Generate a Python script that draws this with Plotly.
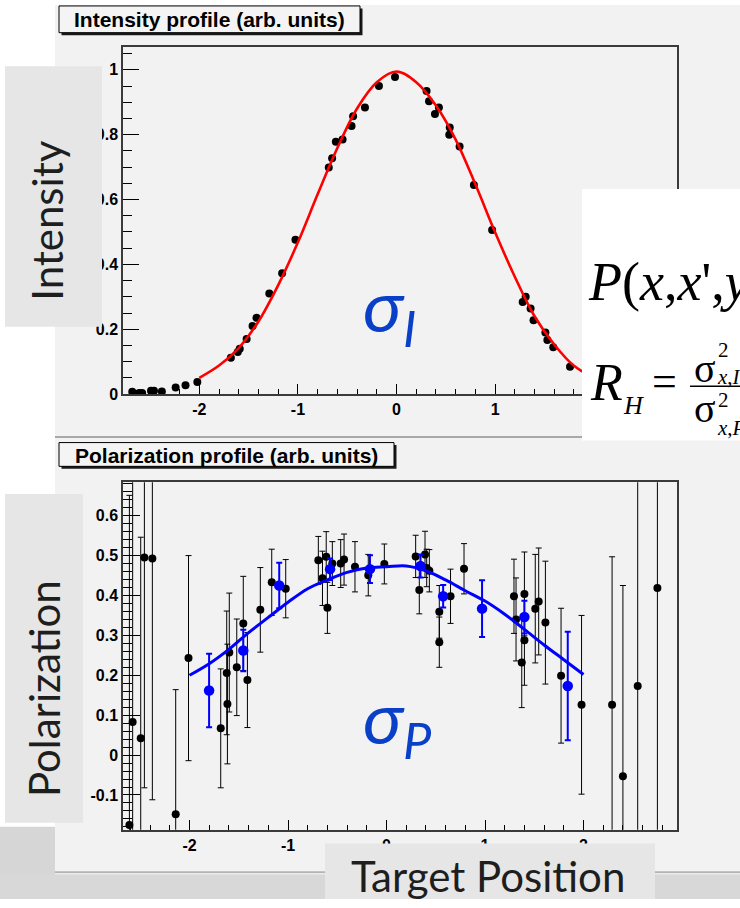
import plotly.graph_objects as go

W, H = 740, 908


def px(x):
    return x / W


def py(y):
    return 1 - y / H


# ---------------- data: intensity profile ----------------
int_x = [-2.68, -2.61, -2.58, -2.49, -2.46, -2.38, -2.24, -2.14, -2.02, -1.68, -1.61, -1.59,
         -1.52, -1.46, -1.42, -1.29, -1.16, -1.025, -0.687, -0.653, -0.615, -0.547, -0.456,
         -0.44, -0.32, -0.178, -0.015, 0.305, 0.33, 0.39, 0.43, 0.535, 0.54, 0.64, 0.785,
         0.97, 1.28, 1.31, 1.36, 1.39, 1.51, 1.53, 1.59, 1.76]
int_y = [0.007, 0.003, 0.003, 0.01, 0.01, 0.008, 0.02, 0.027, 0.037, 0.112, 0.13, 0.14,
         0.17, 0.21, 0.235, 0.31, 0.373, 0.476, 0.699, 0.727, 0.778, 0.785, 0.827,
         0.857, 0.884, 0.95, 0.978, 0.935, 0.903, 0.864, 0.884, 0.80, 0.822, 0.764, 0.645,
         0.506, 0.284, 0.30, 0.264, 0.228, 0.19, 0.167, 0.144, 0.084]

fit_i_x = [-2.0, -1.8, -1.6, -1.4, -1.2, -1.0, -0.8, -0.6, -0.4, -0.2, 0.0,
           0.2, 0.4, 0.6, 0.8, 1.0, 1.2, 1.4, 1.6, 1.8, 2.0]
fit_i_y = [0.05, 0.088, 0.142, 0.224, 0.336, 0.468, 0.616, 0.759, 0.881, 0.962, 0.995,
           0.962, 0.89, 0.785, 0.647, 0.499, 0.362, 0.24, 0.153, 0.087, 0.05]

# ---------------- data: polarization profile ----------------
pol_x = [-2.61, -2.577, -2.495, -2.458, -2.377, -2.14, -2.01, -1.683, -1.622, -1.615, -1.596,
         -1.52, -1.454, -1.412, -1.281, -1.165, -1.023, -0.692, -0.65, -0.612, -0.60, -0.55,
         -0.465, -0.431, -0.32, -0.185, -0.022, 0.296, 0.333, 0.391, 0.408, 0.435, 0.536,
         0.536, 0.65, 0.787, 1.294, 1.315, 1.373, 1.40, 1.40, 1.51, 1.545, 1.613, 1.772,
         1.98, 2.29, 2.40, 2.55, 2.75]
pol_y = [-0.175, 0.083, 0.042, 0.495, 0.493, -0.148, 0.243, 0.067, 0.206, 0.128, 0.257,
         0.22, 0.33, 0.188, 0.364, 0.433, 0.417, 0.488, 0.443, 0.497, 0.369, 0.48,
         0.48, 0.49, 0.472, 0.451, 0.479, 0.498, 0.414, 0.503, 0.469, 0.462, 0.359,
         0.283, 0.398, 0.467, 0.398, 0.34, 0.232, 0.404, 0.288, 0.367, 0.385, 0.332, 0.199,
         0.126, 0.126, -0.053, 0.173, 0.419]
pol_err = [0.826, 0.9, 0.504, 0.577, 0.605, 0.312, 0.257, 0.149, 0.155, 0.15, 0.149,
           0.121, 0.118, 0.119, 0.106, 0.083, 0.073, 0.06, 0.068, 0.063, 0.064, 0.055,
           0.06, 0.064, 0.063, 0.052, 0.05, 0.053, 0.06, 0.058, 0.047, 0.053, 0.066,
           0.063, 0.068, 0.063, 0.093, 0.104, 0.113, 0.105, 0.113, 0.136, 0.134, 0.154, 0.169,
           0.224, 0.371, 0.478, 0.7, 0.9]

bin_x = [-1.801, -1.454, -1.089, -0.573, -0.168, 0.345, 0.575, 0.97, 1.40, 1.84]
bin_y = [0.162, 0.262, 0.425, 0.466, 0.466, 0.474, 0.398, 0.367, 0.346, 0.173]
bin_err = [0.092, 0.052, 0.057, 0.027, 0.035, 0.029, 0.028, 0.071, 0.041, 0.136]

fit_p_x = [-2.0, -1.8, -1.6, -1.4, -1.2, -1.0, -0.8, -0.6, -0.4, -0.2, 0.0,
           0.2, 0.4, 0.6, 0.8, 1.0, 1.2, 1.4, 1.6, 1.8, 2.0]
fit_p_y = [0.2, 0.229, 0.265, 0.307, 0.345, 0.383, 0.417, 0.439, 0.458, 0.469, 0.472,
           0.474, 0.462, 0.439, 0.412, 0.386, 0.353, 0.315, 0.276, 0.239, 0.202]

top_xticks = [-2, -1, 0, 1, 2]
top_xlabels = ["-2", "-1", "0", "1", "2"]
top_yticks = [0, 0.2, 0.4, 0.6, 0.8, 1.0]
top_ylabels = ["0", "0.2", "0.4", "0.6", "0.8", "1"]
bot_xticks = [-2, -1, 0, 1, 2]
bot_xlabels = ["-2", "-1", "0", "1", "2"]
bot_yticks = [-0.1, 0, 0.1, 0.2, 0.3, 0.4, 0.5, 0.6]
bot_ylabels = ["-0.1", "0", "0.1", "0.2", "0.3", "0.4", "0.5", "0.6"]

fig = go.Figure()

# top panel
fig.add_trace(go.Scatter(x=int_x, y=int_y, mode="markers", xaxis="x", yaxis="y",
                         marker=dict(color="black", size=8), hoverinfo="skip"))
fig.add_trace(go.Scatter(x=fit_i_x, y=fit_i_y, mode="lines", xaxis="x", yaxis="y",
                         line=dict(color="#ff0000", width=2.6, shape="spline"), hoverinfo="skip"))

# bottom panel
fig.add_trace(go.Scatter(x=pol_x, y=pol_y, mode="markers", xaxis="x2", yaxis="y2",
                         marker=dict(color="black", size=8),
                         error_y=dict(type="data", array=pol_err, color="black", thickness=1, width=3),
                         hoverinfo="skip"))
fig.add_trace(go.Scatter(x=fit_p_x, y=fit_p_y, mode="lines", xaxis="x2", yaxis="y2",
                         line=dict(color="#0000ff", width=3, shape="spline"), hoverinfo="skip"))
fig.add_trace(go.Scatter(x=bin_x, y=bin_y, mode="markers", xaxis="x2", yaxis="y2",
                         marker=dict(color="#0000ff", size=10.5),
                         error_y=dict(type="data", array=bin_err, color="#0000ff", thickness=2, width=3),
                         hoverinfo="skip"))

tickfont = dict(family="Liberation Sans", size=16, color="black", weight="bold")
axis_common = dict(showgrid=False, zeroline=False, showline=True, linecolor="#3a3a3a",
                   linewidth=1.5, mirror=True, ticks="inside", tickcolor="black",
                   tickwidth=1.2, tickfont=tickfont, tickmode="array")

fig.update_layout(
    width=W, height=H, margin=dict(l=0, r=0, t=0, b=0),
    paper_bgcolor="white", plot_bgcolor="#f2f2f2", showlegend=False,
    xaxis=dict(domain=[px(123), px(677)], range=[-2.774, 2.845], anchor="y",
               tickvals=top_xticks, ticktext=top_xlabels, ticklen=10,
               minor=dict(tickmode="linear", tick0=0, dtick=0.2, ticks="inside", ticklen=5,
                          tickcolor="black", tickwidth=1), **axis_common),
    yaxis=dict(domain=[py(398), py(47)], range=[0, 1.072], anchor="x",
               tickvals=top_yticks, ticktext=top_ylabels, ticklen=16,
               minor=dict(tickmode="linear", tick0=0, dtick=0.05, ticks="inside", ticklen=9,
                          tickcolor="black", tickwidth=1), **axis_common),
    xaxis2=dict(domain=[px(123), px(677)], range=[-2.675, 2.949], anchor="y2",
                tickvals=bot_xticks, ticktext=bot_xlabels, ticklen=10,
                minor=dict(tickmode="linear", tick0=0, dtick=0.2, ticks="inside", ticklen=5,
                           tickcolor="black", tickwidth=1), **axis_common),
    yaxis2=dict(domain=[py(838), py(487)], range=[-0.187, 0.684], anchor="x2",
                tickvals=bot_yticks, ticktext=bot_ylabels, ticklen=17,
                minor=dict(tickmode="linear", tick0=0, dtick=0.02, ticks="inside", ticklen=9,
                           tickcolor="black", tickwidth=1), **axis_common),
)

shapes = []


def rect(x0, y0, x1, y1, fill, layer="above", line=None):
    d = dict(type="rect", xref="paper", yref="paper", x0=px(x0), x1=px(x1), y0=py(y1), y1=py(y0),
             fillcolor=fill, layer=layer, line=dict(width=0))
    if line:
        d["line"] = line
    shapes.append(d)


def hline(x0, x1, y, color, width, layer="above"):
    shapes.append(dict(type="line", xref="paper", yref="paper", x0=px(x0), x1=px(x1),
                       y0=py(y), y1=py(y), line=dict(color=color, width=width), layer=layer))


# slide background decorations and ROOT canvas
rect(0, 835, 55, 908, "#d6d6d6", layer="below")
rect(0, 883, 740, 908, "#d8d8d8", layer="below")
rect(55, 5, 740, 882, "#f2f2f2", layer="below")
hline(55, 740, 441.5, "#a8a8a8", 2, layer="below")
hline(55, 740, 881, "#b4b4b4", 2, layer="below")

# title boxes (ROOT style with shadow)
rect(61.5, 8.5, 362.5, 35.5, "#1a1a1a")
rect(59, 6, 360, 33, "#f4f4f4", line=dict(color="black", width=1))
rect(61.5, 449.5, 396.5, 473.5, "#1a1a1a")
rect(59, 447, 394, 471, "#f4f4f4", line=dict(color="black", width=1))

# slide overlay boxes
rect(5, 67, 102, 330, "#e6e6e6")
rect(5, 499, 83, 831, "#e6e6e6")
rect(325, 852, 655, 908, "#e6e6e6")
rect(582, 191, 740, 445, "#ffffff")
hline(690, 742, 390, "black", 1.5)

fig.update_layout(shapes=shapes)

ann = []


def text(x, y, s, size, family="Lato", color="#1e1e1e", angle=0, xanchor="center",
         yanchor="middle", weight="normal"):
    ann.append(dict(x=px(x), y=py(y), xref="paper", yref="paper", text=s, showarrow=False,
                    textangle=angle, xanchor=xanchor, yanchor=yanchor,
                    font=dict(family=family, size=size, color=color, weight=weight)))


text(209.5, 20, "Intensity profile (arb. units)", 21, family="Liberation Sans", color="black",
     weight="bold")
text(226.5, 460, "Polarization profile (arb. units)", 21, family="Liberation Sans", color="black",
     weight="bold")

text(47, 223, "Intensity", 42, angle=-90)
text(44, 696, "Polarization", 42, angle=-90)
text(488, 885, "Target Position", 42)

text(361, 313, "<i>σ<sub>I</sub></i>", 72, color="#0a40c8", xanchor="left")
text(361, 729, "<i>σ<sub>P</sub></i>", 72, color="#0a40c8", xanchor="left")

serif = "Liberation Serif"
text(586, 285, "<i>P</i>(<i>x</i>,<i>x</i>',<i>y</i>", 54, family=serif, color="black",
     xanchor="left")
text(588, 386, "<i>R</i>", 52, family=serif, color="black", xanchor="left")
text(621, 410, "<i>H</i>", 26, family=serif, color="black", xanchor="left")
text(664, 385, "=", 44, family=serif, color="black")
text(692, 372, "σ", 40, family=serif, color="black", xanchor="left")
text(716, 353, "2", 21, family=serif, color="black", xanchor="left")
text(715, 381, "<i>x</i>,<i>I</i>", 21, family=serif, color="black", xanchor="left")
text(692, 413, "σ", 40, family=serif, color="black", xanchor="left")
text(716, 404, "2", 21, family=serif, color="black", xanchor="left")
text(715, 432, "<i>x</i>,<i>P</i>", 21, family=serif, color="black", xanchor="left")

fig.update_layout(annotations=ann)

fig.write_html("out.html")
